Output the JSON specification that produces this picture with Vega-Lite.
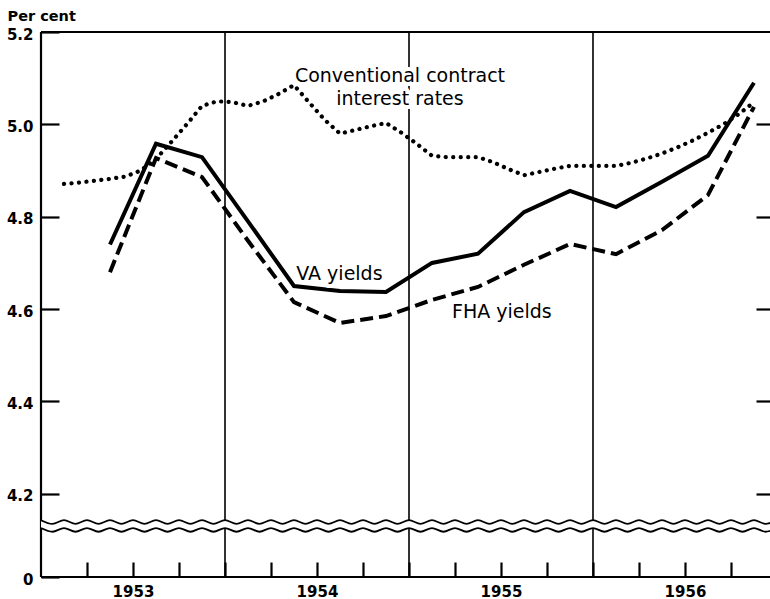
{
  "$schema": "https://vega.github.io/schema/vega-lite/v6.json",
  "width": 729,
  "height": 545,
  "autosize": {"type": "none"},
  "padding": {"left": 41, "top": 32, "right": 0, "bottom": 22},
  "background": "white",
  "config": {
    "view": {"stroke": null},
    "axis": {"domainColor": "black", "labelColor": "black", "grid": false, "labelFont": "DejaVu Sans", "labelFontSize": 15, "labelFontWeight": "bold", "labelFlush": false, "labelOverlap": false, "labelBound": false}
  },
  "datasets": {
    "lines": [
      {"t": 1953.125, "s": "conv", "v": 4.871},
      {"t": 1953.2083, "s": "conv", "v": 4.874},
      {"t": 1953.2917, "s": "conv", "v": 4.878},
      {"t": 1953.375, "s": "conv", "v": 4.882},
      {"t": 1953.4583, "s": "conv", "v": 4.887},
      {"t": 1953.5417, "s": "conv", "v": 4.9},
      {"t": 1953.625, "s": "conv", "v": 4.925},
      {"t": 1953.7083, "s": "conv", "v": 4.962},
      {"t": 1953.7917, "s": "conv", "v": 5.0},
      {"t": 1953.875, "s": "conv", "v": 5.04},
      {"t": 1953.9583, "s": "conv", "v": 5.05},
      {"t": 1954.0417, "s": "conv", "v": 5.048},
      {"t": 1954.125, "s": "conv", "v": 5.04},
      {"t": 1954.2083, "s": "conv", "v": 5.05},
      {"t": 1954.2917, "s": "conv", "v": 5.066},
      {"t": 1954.375, "s": "conv", "v": 5.085},
      {"t": 1954.4583, "s": "conv", "v": 5.047},
      {"t": 1954.5417, "s": "conv", "v": 5.01},
      {"t": 1954.625, "s": "conv", "v": 4.98},
      {"t": 1954.7083, "s": "conv", "v": 4.988},
      {"t": 1954.7917, "s": "conv", "v": 4.996},
      {"t": 1954.875, "s": "conv", "v": 5.003},
      {"t": 1954.9583, "s": "conv", "v": 4.982},
      {"t": 1955.0417, "s": "conv", "v": 4.958},
      {"t": 1955.125, "s": "conv", "v": 4.932},
      {"t": 1955.2083, "s": "conv", "v": 4.929},
      {"t": 1955.2917, "s": "conv", "v": 4.929},
      {"t": 1955.375, "s": "conv", "v": 4.929},
      {"t": 1955.4583, "s": "conv", "v": 4.918},
      {"t": 1955.5417, "s": "conv", "v": 4.903},
      {"t": 1955.625, "s": "conv", "v": 4.89},
      {"t": 1955.7083, "s": "conv", "v": 4.897},
      {"t": 1955.7917, "s": "conv", "v": 4.904},
      {"t": 1955.875, "s": "conv", "v": 4.91},
      {"t": 1955.9583, "s": "conv", "v": 4.91},
      {"t": 1956.0417, "s": "conv", "v": 4.91},
      {"t": 1956.125, "s": "conv", "v": 4.91},
      {"t": 1956.2083, "s": "conv", "v": 4.917},
      {"t": 1956.2917, "s": "conv", "v": 4.926},
      {"t": 1956.375, "s": "conv", "v": 4.937},
      {"t": 1956.4583, "s": "conv", "v": 4.95},
      {"t": 1956.5417, "s": "conv", "v": 4.965},
      {"t": 1956.625, "s": "conv", "v": 4.982},
      {"t": 1956.7083, "s": "conv", "v": 5.0},
      {"t": 1956.7917, "s": "conv", "v": 5.022},
      {"t": 1956.875, "s": "conv", "v": 5.048},
      {"t": 1953.375, "s": "va", "v": 4.74},
      {"t": 1953.625, "s": "va", "v": 4.958},
      {"t": 1953.875, "s": "va", "v": 4.929},
      {"t": 1954.125, "s": "va", "v": 4.79},
      {"t": 1954.375, "s": "va", "v": 4.65},
      {"t": 1954.625, "s": "va", "v": 4.639},
      {"t": 1954.875, "s": "va", "v": 4.637},
      {"t": 1955.125, "s": "va", "v": 4.7},
      {"t": 1955.375, "s": "va", "v": 4.72},
      {"t": 1955.625, "s": "va", "v": 4.81},
      {"t": 1955.875, "s": "va", "v": 4.856},
      {"t": 1956.125, "s": "va", "v": 4.821},
      {"t": 1956.375, "s": "va", "v": 4.876},
      {"t": 1956.625, "s": "va", "v": 4.932},
      {"t": 1956.875, "s": "va", "v": 5.09},
      {"t": 1953.375, "s": "fha", "v": 4.68},
      {"t": 1953.625, "s": "fha", "v": 4.927},
      {"t": 1953.875, "s": "fha", "v": 4.886},
      {"t": 1954.125, "s": "fha", "v": 4.748},
      {"t": 1954.375, "s": "fha", "v": 4.615},
      {"t": 1954.625, "s": "fha", "v": 4.57},
      {"t": 1954.875, "s": "fha", "v": 4.585},
      {"t": 1955.125, "s": "fha", "v": 4.62},
      {"t": 1955.375, "s": "fha", "v": 4.648},
      {"t": 1955.625, "s": "fha", "v": 4.696},
      {"t": 1955.875, "s": "fha", "v": 4.741},
      {"t": 1956.125, "s": "fha", "v": 4.719},
      {"t": 1956.375, "s": "fha", "v": 4.771},
      {"t": 1956.625, "s": "fha", "v": 4.847},
      {"t": 1956.875, "s": "fha", "v": 5.038}
    ],
    "wave": [
      {"x": 1953, "u": 4.143, "l": 4.126}, {"x": 1953.0625, "u": 4.135, "l": 4.118},
      {"x": 1953.125, "u": 4.143, "l": 4.126}, {"x": 1953.1875, "u": 4.135, "l": 4.118},
      {"x": 1953.25, "u": 4.143, "l": 4.126}, {"x": 1953.3125, "u": 4.135, "l": 4.118},
      {"x": 1953.375, "u": 4.143, "l": 4.126}, {"x": 1953.4375, "u": 4.135, "l": 4.118},
      {"x": 1953.5, "u": 4.143, "l": 4.126}, {"x": 1953.5625, "u": 4.135, "l": 4.118},
      {"x": 1953.625, "u": 4.143, "l": 4.126}, {"x": 1953.6875, "u": 4.135, "l": 4.118},
      {"x": 1953.75, "u": 4.143, "l": 4.126}, {"x": 1953.8125, "u": 4.135, "l": 4.118},
      {"x": 1953.875, "u": 4.143, "l": 4.126}, {"x": 1953.9375, "u": 4.135, "l": 4.118},
      {"x": 1954, "u": 4.143, "l": 4.126}, {"x": 1954.0625, "u": 4.135, "l": 4.118},
      {"x": 1954.125, "u": 4.143, "l": 4.126}, {"x": 1954.1875, "u": 4.135, "l": 4.118},
      {"x": 1954.25, "u": 4.143, "l": 4.126}, {"x": 1954.3125, "u": 4.135, "l": 4.118},
      {"x": 1954.375, "u": 4.143, "l": 4.126}, {"x": 1954.4375, "u": 4.135, "l": 4.118},
      {"x": 1954.5, "u": 4.143, "l": 4.126}, {"x": 1954.5625, "u": 4.135, "l": 4.118},
      {"x": 1954.625, "u": 4.143, "l": 4.126}, {"x": 1954.6875, "u": 4.135, "l": 4.118},
      {"x": 1954.75, "u": 4.143, "l": 4.126}, {"x": 1954.8125, "u": 4.135, "l": 4.118},
      {"x": 1954.875, "u": 4.143, "l": 4.126}, {"x": 1954.9375, "u": 4.135, "l": 4.118},
      {"x": 1955, "u": 4.143, "l": 4.126}, {"x": 1955.0625, "u": 4.135, "l": 4.118},
      {"x": 1955.125, "u": 4.143, "l": 4.126}, {"x": 1955.1875, "u": 4.135, "l": 4.118},
      {"x": 1955.25, "u": 4.143, "l": 4.126}, {"x": 1955.3125, "u": 4.135, "l": 4.118},
      {"x": 1955.375, "u": 4.143, "l": 4.126}, {"x": 1955.4375, "u": 4.135, "l": 4.118},
      {"x": 1955.5, "u": 4.143, "l": 4.126}, {"x": 1955.5625, "u": 4.135, "l": 4.118},
      {"x": 1955.625, "u": 4.143, "l": 4.126}, {"x": 1955.6875, "u": 4.135, "l": 4.118},
      {"x": 1955.75, "u": 4.143, "l": 4.126}, {"x": 1955.8125, "u": 4.135, "l": 4.118},
      {"x": 1955.875, "u": 4.143, "l": 4.126}, {"x": 1955.9375, "u": 4.135, "l": 4.118},
      {"x": 1956, "u": 4.143, "l": 4.126}, {"x": 1956.0625, "u": 4.135, "l": 4.118},
      {"x": 1956.125, "u": 4.143, "l": 4.126}, {"x": 1956.1875, "u": 4.135, "l": 4.118},
      {"x": 1956.25, "u": 4.143, "l": 4.126}, {"x": 1956.3125, "u": 4.135, "l": 4.118},
      {"x": 1956.375, "u": 4.143, "l": 4.126}, {"x": 1956.4375, "u": 4.135, "l": 4.118},
      {"x": 1956.5, "u": 4.143, "l": 4.126}, {"x": 1956.5625, "u": 4.135, "l": 4.118},
      {"x": 1956.625, "u": 4.143, "l": 4.126}, {"x": 1956.6875, "u": 4.135, "l": 4.118},
      {"x": 1956.75, "u": 4.143, "l": 4.126}, {"x": 1956.8125, "u": 4.135, "l": 4.118},
      {"x": 1956.875, "u": 4.143, "l": 4.126}, {"x": 1956.9375, "u": 4.135, "l": 4.118},
      {"x": 1957, "u": 4.143, "l": 4.126}
    ],
    "years": [{"yr": 1954}, {"yr": 1955}, {"yr": 1956}],
    "labels": [
      {"x": 1954.951, "y": 5.092, "label": "Conventional contract"},
      {"x": 1954.951, "y": 5.042, "label": "interest rates"},
      {"x": 1954.622, "y": 4.663, "label": "VA yields"},
      {"x": 1955.505, "y": 4.581, "label": "FHA yields"}
    ]
  },
  "resolve": {"axis": {"x": "independent", "y": "independent"}},
  "layer": [
    {
      "data": {"values": [{}]},
      "mark": {"type": "rule", "stroke": "black", "strokeWidth": 2.2},
      "encoding": {
        "x": {"datum": 1953, "type": "quantitative", "scale": {"domain": [1953, 1956.962], "nice": false, "zero": false}, "axis": null}
      }
    },
    {
      "data": {"values": [{}]},
      "mark": {"type": "rule", "stroke": "black", "strokeWidth": 2.2},
      "encoding": {
        "y": {"datum": 5.2, "type": "quantitative", "scale": {"domain": [4.02, 5.2], "nice": false, "zero": false}, "axis": null}
      }
    },
    {
      "data": {"values": [{}]},
      "mark": {"type": "rule", "stroke": "black", "strokeWidth": 2.2},
      "encoding": {
        "y": {"datum": 4.02, "type": "quantitative", "scale": {"domain": [4.02, 5.2], "nice": false, "zero": false}, "axis": null}
      }
    },
    {
      "data": {"name": "years"},
      "mark": {"type": "rule", "stroke": "black", "strokeWidth": 1.6},
      "encoding": {
        "x": {"field": "yr", "type": "quantitative", "scale": {"domain": [1953, 1956.962], "nice": false, "zero": false}, "axis": null}
      }
    },
    {
      "data": {"name": "wave"},
      "mark": {"type": "area", "fill": "white", "interpolate": "monotone", "clip": true},
      "encoding": {
        "x": {"field": "x", "type": "quantitative", "scale": {"domain": [1953, 1956.962], "nice": false, "zero": false}, "axis": null},
        "y": {"field": "u", "type": "quantitative", "scale": {"domain": [4.02, 5.2], "nice": false, "zero": false}, "axis": null},
        "y2": {"field": "l"}
      }
    },
    {
      "data": {"name": "wave"},
      "mark": {"type": "line", "stroke": "black", "strokeWidth": 1.8, "interpolate": "monotone", "clip": true},
      "encoding": {
        "x": {"field": "x", "type": "quantitative", "scale": {"domain": [1953, 1956.962], "nice": false, "zero": false}, "axis": null},
        "y": {"field": "u", "type": "quantitative", "scale": {"domain": [4.02, 5.2], "nice": false, "zero": false}, "axis": null}
      }
    },
    {
      "data": {"name": "wave"},
      "mark": {"type": "line", "stroke": "black", "strokeWidth": 1.8, "interpolate": "monotone", "clip": true},
      "encoding": {
        "x": {"field": "x", "type": "quantitative", "scale": {"domain": [1953, 1956.962], "nice": false, "zero": false}, "axis": null},
        "y": {"field": "l", "type": "quantitative", "scale": {"domain": [4.02, 5.2], "nice": false, "zero": false}, "axis": null}
      }
    },
    {
      "data": {"name": "lines"},
      "transform": [{"filter": "datum.s == 'conv'"}],
      "mark": {"type": "line", "stroke": "black", "strokeWidth": 4.2, "strokeDash": [0.1, 7.4], "strokeCap": "round"},
      "encoding": {
        "x": {"field": "t", "type": "quantitative", "scale": {"domain": [1953, 1956.962], "nice": false, "zero": false},
              "axis": {"orient": "bottom", "offset": -15, "domain": false, "ticks": true, "tickColor": "black", "tickWidth": 2.2, "values": [1953.25, 1953.5, 1953.75, 1954, 1954.25, 1954.5, 1954.75, 1955, 1955.25, 1955.5, 1955.75, 1956, 1956.25, 1956.5, 1956.75],
                       "labelExpr": "datum.value % 1 == 0.5 ? format(floor(datum.value), 'd') : ''",
                       "tickSize": 15, "labelPadding": 7, "title": null}},
        "y": {"field": "v", "type": "quantitative", "scale": {"domain": [4.02, 5.2], "nice": false, "zero": false},
              "axis": {"orient": "left", "offset": -18, "domain": false, "ticks": true, "tickColor": "black", "tickWidth": 2.2, "values": [4.02, 4.2, 4.4, 4.6, 4.8, 5.0, 5.2],
                       "labelExpr": "datum.value < 4.1 ? '0' : format(datum.value, '.1f')",
                       "tickSize": 18, "labelPadding": 8, "labelOffset": 2,
                       "title": "Per cent", "titleAngle": 0, "titleAlign": "left", "titleBaseline": "alphabetic",
                       "titleX": -52, "titleY": -12, "titleFont": "DejaVu Sans", "titleFontSize": 14.5, "titleFontWeight": "bold", "titleColor": "black"}}
      }
    },
    {
      "data": {"name": "lines"},
      "transform": [{"filter": "datum.s == 'va'"}],
      "mark": {"type": "line", "stroke": "black", "strokeWidth": 4},
      "encoding": {
        "x": {"field": "t", "type": "quantitative", "scale": {"domain": [1953, 1956.962], "nice": false, "zero": false}, "axis": null},
        "y": {"field": "v", "type": "quantitative", "scale": {"domain": [4.02, 5.2], "nice": false, "zero": false},
              "axis": {"orient": "right", "offset": -14, "values": [4.2, 4.4, 4.6, 4.8, 5.0], "ticks": true, "tickColor": "black", "tickWidth": 2.2, "tickSize": 14, "labels": false, "domain": false, "title": null}}
      }
    },
    {
      "data": {"name": "lines"},
      "transform": [{"filter": "datum.s == 'fha'"}],
      "mark": {"type": "line", "stroke": "black", "strokeWidth": 4, "strokeDash": [13, 6]},
      "encoding": {
        "x": {"field": "t", "type": "quantitative", "scale": {"domain": [1953, 1956.962], "nice": false, "zero": false}, "axis": null},
        "y": {"field": "v", "type": "quantitative", "scale": {"domain": [4.02, 5.2], "nice": false, "zero": false}, "axis": null}
      }
    },
    {
      "data": {"name": "labels"},
      "mark": {"type": "text", "font": "DejaVu Sans", "fontSize": 19, "align": "center", "baseline": "alphabetic", "color": "white", "stroke": "white", "strokeWidth": 8, "strokeJoin": "round"},
      "encoding": {
        "x": {"field": "x", "type": "quantitative", "scale": {"domain": [1953, 1956.962], "nice": false, "zero": false}, "axis": null},
        "y": {"field": "y", "type": "quantitative", "scale": {"domain": [4.02, 5.2], "nice": false, "zero": false}, "axis": null},
        "text": {"field": "label"}
      }
    },
    {
      "data": {"name": "labels"},
      "mark": {"type": "text", "font": "DejaVu Sans", "fontSize": 19, "align": "center", "baseline": "alphabetic", "color": "black"},
      "encoding": {
        "x": {"field": "x", "type": "quantitative", "scale": {"domain": [1953, 1956.962], "nice": false, "zero": false}, "axis": null},
        "y": {"field": "y", "type": "quantitative", "scale": {"domain": [4.02, 5.2], "nice": false, "zero": false}, "axis": null},
        "text": {"field": "label"}
      }
    }
  ]
}
